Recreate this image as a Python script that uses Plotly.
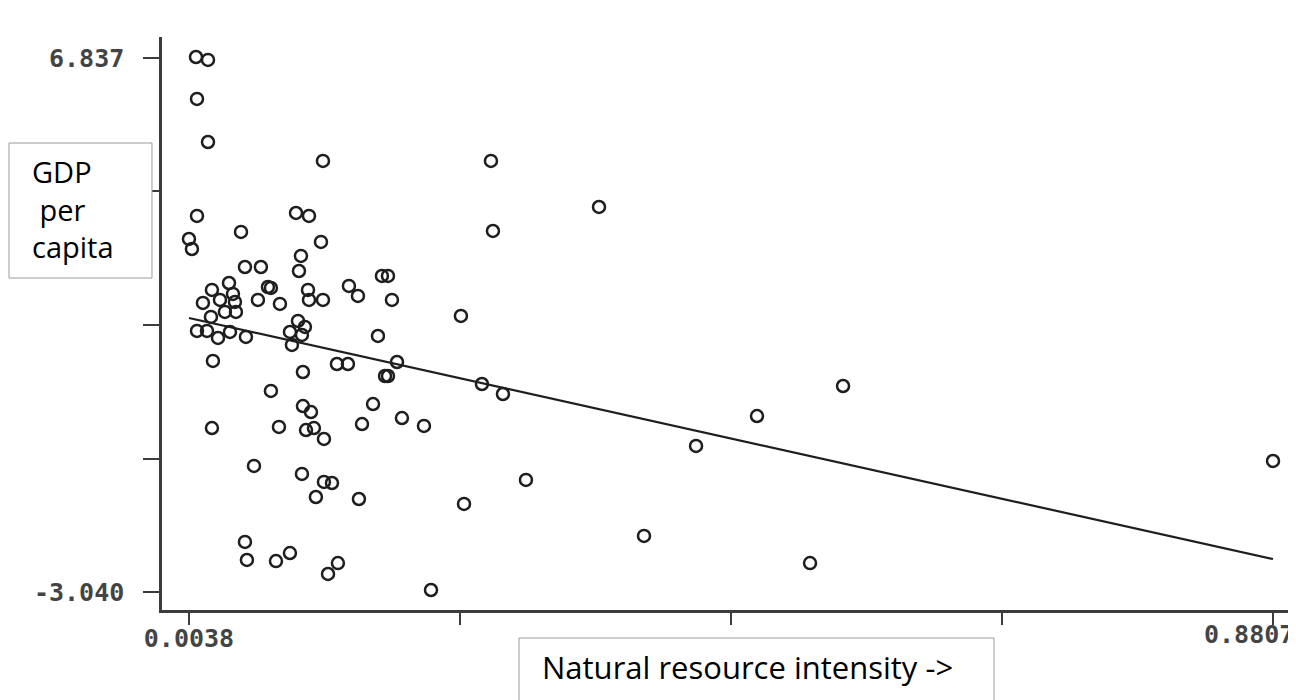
import plotly.graph_objects as go

# Natural resource intensity (x) and GDP per capita growth (y)
intensity = [
    0.0095, 0.0192, 0.0103, 0.0192, 0.1122, 0.2481, 0.3355, 0.0103, 0.0904, 0.1009,
    0.0459, 0.2497, 0.0038, 0.0062, 0.1106, 0.0944, 0.0928, 0.0491, 0.0620, 0.0362,
    0.0677, 0.0701, 0.0224, 0.0394, 0.0289, 0.0151, 0.0410, 0.0596, 0.0774, 0.0329,
    0.0418, 0.0216, 0.0103, 0.0184, 0.0273, 0.0370, 0.0499, 0.1001, 0.1009, 0.1122,
    0.1332, 0.1405, 0.1599, 0.1648, 0.1680, 0.0920, 0.0976, 0.0855, 0.0952, 0.0871,
    0.1567, 0.1721, 0.0232, 0.1235, 0.1324, 0.1624, 0.1648, 0.0960, 0.0701, 0.0960,
    0.1025, 0.1527, 0.1761, 0.1939, 0.1438, 0.0224, 0.0766, 0.0985, 0.1049, 0.1130,
    0.0564, 0.0952, 0.1130, 0.1195, 0.1065, 0.1413, 0.2263, 0.0491, 0.0507, 0.0742,
    0.0855, 0.1243, 0.1163, 0.1996, 0.2238, 0.2408, 0.2578, 0.2764, 0.3719, 0.4140,
    0.4633, 0.5329, 0.5062, 0.8807,
]
gdp_per_capita = [
    6.855, 6.800, 6.079, 5.283, 4.932, 4.932, 4.081, 3.915, 3.970, 3.915,
    3.619, 3.637, 3.489, 3.304, 3.434, 3.175, 2.897, 2.971, 2.971, 2.675,
    2.601, 2.583, 2.546, 2.472, 2.361, 2.306, 2.324, 2.361, 2.287, 2.139,
    2.139, 2.047, 1.788, 1.788, 1.658, 1.769, 1.677, 2.546, 2.361, 2.361,
    2.620, 2.435, 2.805, 2.805, 2.361, 1.973, 1.862, 1.769, 1.714, 1.529,
    1.695, 1.214, 1.233, 1.177, 1.177, 0.955, 0.955, 1.029, 0.678, 0.400,
    0.289, 0.437, 0.178, 0.031, 0.067, -0.007, 0.012, -0.044, -0.007, -0.210,
    -0.709, -0.857, -1.005, -1.024, -1.283, -1.320, -1.412, -2.115, -2.448, -2.467,
    -2.319, -2.504, -2.707, -3.003, 2.065, 0.807, 0.622, -0.968, -2.004, -0.339,
    0.215, 0.770, -2.504, -0.617,
]

# Fitted regression line endpoints
fit_x = [0.0038, 0.8807]
fit_y = [2.028, -2.430]

# Axis ticks
x_tickvals = [0.0038, 0.2230, 0.4423, 0.6615, 0.8807]
x_ticktext = ["0.0038", "", "", "", ""]
y_tickvals = [6.837, 4.368, 1.898, -0.571, -3.040]
y_ticktext = ["6.837", "", "", "", "-3.040"]

INK = "#1e1e1e"
AXIS = "#3c3c3c"
TICKFONT = dict(family="DejaVu Sans Mono", size=25, color="#444444", weight="bold")
YLABELFONT = dict(family="Open Sans", size=29, color="#000000")
XLABELFONT = dict(family="Open Sans", size=31, color="#000000")

fig = go.Figure()
fig.add_trace(go.Scatter(
    x=intensity, y=gdp_per_capita, mode="markers",
    marker=dict(symbol="circle-open", size=12, color=INK, line=dict(width=2.5, color=INK)),
    showlegend=False, hoverinfo="x+y",
))
fig.add_trace(go.Scatter(
    x=fit_x, y=fit_y, mode="lines",
    line=dict(color=INK, width=2.2), showlegend=False, hoverinfo="skip",
))

fig.update_xaxes(
    range=[-0.0180, 0.8993], showgrid=False, zeroline=False,
    showline=True, linewidth=2.5, linecolor=AXIS,
    tickmode="array", tickvals=x_tickvals, ticktext=x_ticktext,
    ticks="outside", ticklen=12, tickwidth=2, tickcolor=AXIS,
    tickfont=TICKFONT, ticklabelstandoff=-8,
)
fig.update_yaxes(
    range=[-3.373, 7.225], showgrid=False, zeroline=False,
    showline=True, linewidth=2.5, linecolor=AXIS,
    tickmode="array", tickvals=y_tickvals, ticktext=y_ticktext,
    ticks="outside", ticklen=16, tickwidth=2, tickcolor=AXIS,
    tickfont=TICKFONT, ticklabelstandoff=14,
)

shapes = [
    dict(type="rect", xref="paper", yref="paper",
         x0=-0.1349, x1=-0.00882, y0=0.5794, y1=0.815,
         line=dict(color="#9a9a9a", width=1), fillcolor="white", layer="above"),
    dict(type="rect", xref="paper", yref="paper",
         x0=0.3148, x1=0.7337, y0=-0.170, y1=-0.0489,
         line=dict(color="#9a9a9a", width=1), fillcolor="white", layer="above"),
]

annotations = [
    dict(text="GDP<br>\u00a0per<br>capita", xref="paper", yref="paper",
         x=-0.1164, y=0.6998, xanchor="left", yanchor="middle", align="left",
         showarrow=False, font=YLABELFONT),
    dict(text="Natural resource intensity ->", xref="paper", yref="paper",
         x=0.3333, y=-0.0995, xanchor="left", yanchor="middle",
         showarrow=False, font=XLABELFONT),
    dict(text="0.8807", xref="paper", yref="paper",
         x=1.0, y=-0.0419, xanchor="right", yanchor="middle",
         showarrow=False, font=TICKFONT),
]

fig.update_layout(
    width=1288, height=692,
    margin=dict(l=154, r=0, t=29, b=90),
    paper_bgcolor="white", plot_bgcolor="white",
    shapes=shapes, annotations=annotations,
)

fig.write_html("out.html")
